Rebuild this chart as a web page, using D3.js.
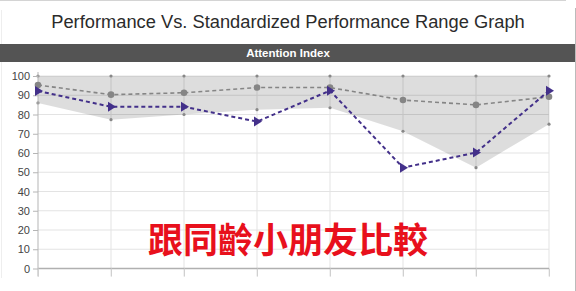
<!DOCTYPE html>
<html>
<head>
<meta charset="utf-8">
<script src="https://cdn.jsdelivr.net/npm/d3@7"></script>
<style>
  body { margin: 0; background: #fff; }
  svg { display: block; font-family: "Liberation Sans", Arial, sans-serif; }
</style>
</head>
<body>
<div id="chart"></div>
<script>
const categories = ["1", "2", "3", "4", "5", "6", "7", "8"];
const rangeHigh = [100, 100, 100, 100, 100, 100, 100, 100];
const rangeLow = [86, 77.3, 80, 82.5, 83.5, 71.3, 52.4, 75];
const standardScores = [95.3, 90.3, 91.3, 94, 94, 87.5, 85, 89.2];
const childScores = [92.2, 84, 84, 76.3, 92.4, 52.4, 60.2, 92.4];
const yTicks = [0, 10, 20, 30, 40, 50, 60, 70, 80, 90, 100];

const width = 576;
const height = 291;
const margin = { top: 76, right: 27, bottom: 22.5, left: 38 };

const svg = d3.select("#chart")
  .append("svg")
  .attr("width", width)
  .attr("height", height);

// card edges
svg.append("line")
  .attr("x1", 0).attr("x2", 566).attr("y1", 0.5).attr("y2", 0.5)
  .attr("stroke", "#d4d4d4");
svg.append("line")
  .attr("x1", 1.5).attr("x2", 1.5).attr("y1", 10).attr("y2", 278)
  .attr("stroke", "#eee");
svg.append("line")
  .attr("x1", 575.5).attr("x2", 575.5).attr("y1", 8).attr("y2", 291)
  .attr("stroke", "#bbb");

svg.append("text")
  .attr("x", 288).attr("y", 28)
  .attr("text-anchor", "middle")
  .attr("font-size", 18.3)
  .attr("fill", "#2b2b2b")
  .text("Performance Vs. Standardized Performance Range Graph");

svg.append("rect")
  .attr("x", 0).attr("y", 44).attr("width", 575).attr("height", 18)
  .attr("fill", "#545454");
svg.append("text")
  .attr("x", 288).attr("y", 57)
  .attr("text-anchor", "middle")
  .attr("font-size", 11.5)
  .attr("font-weight", "bold")
  .attr("fill", "#fff")
  .text("Attention Index");

const x = d3.scalePoint()
  .domain(categories)
  .range([margin.left, width - margin.right]);

const y = d3.scaleLinear()
  .domain([0, 100])
  .range([height - margin.bottom, margin.top]);

const data = categories.map((c, i) => ({
  c, lo: rangeLow[i], hi: rangeHigh[i], std: standardScores[i], child: childScores[i]
}));

// grid
svg.append("g")
  .selectAll("line")
  .data(yTicks)
  .join("line")
    .attr("x1", margin.left).attr("x2", width - margin.right)
    .attr("y1", d => y(d)).attr("y2", d => y(d))
    .attr("stroke", "#e3e3e3");
svg.append("g")
  .selectAll("line")
  .data(categories.slice(1))
  .join("line")
    .attr("x1", d => x(d)).attr("x2", d => x(d))
    .attr("y1", y(100)).attr("y2", y(0) + 8)
    .attr("stroke", "#e3e3e3");

// range band (semi transparent so the grid shows through)
svg.append("path")
  .datum(data)
  .attr("fill", "#000")
  .attr("fill-opacity", 0.135)
  .attr("d", d3.area()
    .x(d => x(d.c))
    .y0(d => y(d.lo))
    .y1(d => y(d.hi)));

svg.append("g")
  .attr("fill", "#888")
  .selectAll("circle")
  .data(data.flatMap(d => [{ c: d.c, v: d.lo }, { c: d.c, v: d.hi }]))
  .join("circle")
    .attr("cx", d => x(d.c))
    .attr("cy", d => y(d.v))
    .attr("r", 1.6);

// axes
const yAxis = svg.append("g")
  .attr("transform", `translate(${margin.left},0)`)
  .call(d3.axisLeft(y).tickValues(yTicks).tickSize(5).tickSizeOuter(0));
yAxis.select(".domain").attr("stroke", "#b5b5b5");
yAxis.selectAll(".tick line").attr("stroke", "#b5b5b5");
yAxis.selectAll(".tick text")
  .attr("font-size", 11)
  .attr("fill", "#444")
  .attr("font-family", "Liberation Sans, Arial, sans-serif");
yAxis.select(".domain").attr("d", `M-0,${y(100) - 4}V${y(0) + 8}`);

const xAxis = svg.append("g")
  .attr("transform", `translate(0,${y(0)})`)
  .call(d3.axisBottom(x).tickSize(8).tickFormat(""));
xAxis.select(".domain").attr("stroke", "#b0b0b0").attr("stroke-width", 1.5)
  .attr("d", `M${margin.left},0H${width - margin.right}`);
xAxis.selectAll(".tick line").attr("stroke", "#d0d0d0");

// standardized series
svg.append("path")
  .datum(data)
  .attr("fill", "none")
  .attr("stroke", "#858585")
  .attr("stroke-width", 1.6)
  .attr("stroke-dasharray", "4,3")
  .attr("d", d3.line().x(d => x(d.c)).y(d => y(d.std)));
svg.append("g")
  .attr("fill", "#858585")
  .selectAll("circle")
  .data(data)
  .join("circle")
    .attr("cx", d => x(d.c))
    .attr("cy", d => y(d.std))
    .attr("r", 3.3);

// child series
svg.append("path")
  .datum(data)
  .attr("fill", "none")
  .attr("stroke", "#43308a")
  .attr("stroke-width", 2)
  .attr("stroke-dasharray", "4,3")
  .attr("d", d3.line().x(d => x(d.c)).y(d => y(d.child)));
svg.append("g")
  .attr("fill", "#43308a")
  .selectAll("path")
  .data(data)
  .join("path")
    .attr("transform", d => `translate(${x(d.c)},${y(d.child)})`)
    .attr("d", "M-3,-5L5,0L-3,5Z");

svg.append("text")
  .attr("x", 288).attr("y", 252.5)
  .attr("text-anchor", "middle")
  .attr("font-family", "'Noto Sans CJK TC', 'Noto Sans CJK SC', sans-serif")
  .attr("font-weight", "bold")
  .attr("font-size", 35)
  .attr("fill", "#e8101c")
  .text("跟同齡小朋友比較");
</script>
</body>
</html>
